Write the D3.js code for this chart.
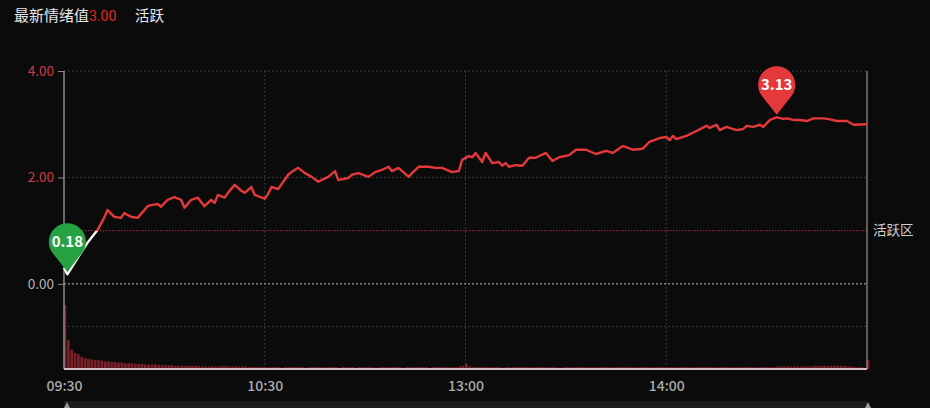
<!DOCTYPE html>
<html>
<head>
<meta charset="utf-8">
<script src="https://cdn.jsdelivr.net/npm/d3@7/dist/d3.min.js"></script>
<style>
  html, body { margin: 0; padding: 0; background: #0b0b0c; }
  svg { display: block; }
  text { font-family: "Noto Sans CJK SC", "Noto Sans", Roboto, sans-serif; }
</style>
</head>
<body>
<svg id="chart" width="930" height="408"></svg>
<script>
// ---------- DATA ----------
const titleLabel = "最新情绪值";
const latestValue = "3.00";
const stateLabel = "活跃";
const zoneLabel = "活跃区";
const zoneThreshold = 1.0;

const yTickValues = [4, 2, 0];
const yGridValues = [4, 2, -0.8];
const xTickMinutes = [0, 60, 120, 180];
const xTickLabels = ["09:30", "10:30", "13:00", "14:00"];

// minute index (0 = 09:30, 240 = 15:00) and sentiment value
const minutes = [0,1,4,7,10,12,13,15,17,18,20,22,25,26,28,29,31,33,35,36,38,40,42,44,45,46,48,49,51,53,54,56,57,60,61,62,64,67,68,70,72,74,76,79,81,82,85,86,88,91,93,95,97,98,100,103,104,106,109,111,113,116,118,119,121,122,123,125,126,128,130,131,132,133,135,137,139,141,144,146,148,151,153,156,159,162,164,167,168,170,173,175,178,180,181,182,183,186,188,192,193,195,196,198,201,203,204,206,208,209,211,213,215,216,218,220,222,224,227,229,231,234,236,240];
const values  = [0.30,0.18,0.48,0.77,1.01,1.24,1.39,1.26,1.24,1.33,1.26,1.24,1.46,1.48,1.50,1.45,1.58,1.63,1.58,1.43,1.58,1.62,1.46,1.58,1.52,1.67,1.62,1.71,1.86,1.75,1.71,1.82,1.67,1.60,1.69,1.82,1.78,2.05,2.10,2.18,2.08,2.01,1.92,2.01,2.12,1.95,1.99,2.05,2.08,2.01,2.10,2.14,2.20,2.12,2.18,2.01,2.08,2.20,2.20,2.18,2.18,2.10,2.12,2.33,2.40,2.38,2.46,2.29,2.46,2.27,2.29,2.22,2.27,2.20,2.23,2.22,2.37,2.37,2.46,2.31,2.38,2.42,2.52,2.52,2.44,2.50,2.46,2.59,2.57,2.52,2.54,2.67,2.74,2.76,2.70,2.78,2.72,2.78,2.84,2.97,2.93,2.99,2.89,2.95,2.89,2.91,2.97,2.95,2.99,2.95,3.08,3.13,3.10,3.11,3.08,3.08,3.06,3.11,3.11,3.09,3.06,3.06,2.99,3.00];

// per-minute volume bars (relative units)
const volumes = [
  100,45,30,25,23,19,17,16,15,14,14,13,12,12,11,11,10,10,9,9,
  9,8,8,8,7,7,7,7,6,6,6,6,6,5,5,5,5,5,5,5,
  5,4,4,4,4,4,4,5,5,4,4,4,4,4,4,3,3,3,3,3,
  3,3,3,3,3,2,3,3,3,3,3,3,2,3,3,3,3,3,3,3,
  3,3,2,3,3,3,3,2,3,3,3,3,3,2,3,3,3,3,3,3,
  3,2,3,3,3,3,3,3,3,2,3,3,3,3,3,3,3,3,4,5,
  8,4,3,3,3,3,3,3,3,3,3,2,3,3,3,3,3,3,3,3,
  3,3,3,3,3,3,3,3,2,3,3,3,3,3,3,3,3,3,3,3,
  3,3,3,3,3,3,3,3,3,3,3,3,3,3,3,3,3,3,3,3,
  3,3,3,3,3,3,3,3,3,3,3,3,3,3,3,3,3,3,3,3,
  3,3,3,3,3,3,3,3,3,3,3,3,3,4,4,4,4,4,4,4,
  4,4,4,4,5,5,5,5,5,5,5,5,5,5,4,4,3,3,3,2,
  14
];

// ---------- LAYOUT ----------
const svg = d3.select("#chart");
const L = 64, R = 867, T = 71, B = 369;
const x = d3.scaleLinear().domain([0, 240]).range([L, R]);
const y = d3.scaleLinear().domain([-1.6, 4]).range([B, T]);
const yv = d3.scaleLinear().domain([0, 100]).range([B, 305]);

const RED = "#e5383b";
const GREEN = "#27a243";

svg.append("rect").attr("width", 930).attr("height", 408).attr("fill", "#0b0b0c");

// title
const title = svg.append("text").attr("x", 14).attr("y", 21).attr("font-size", 15);
title.append("tspan").attr("fill", "#e6e6e6").text(titleLabel);
title.append("tspan").attr("fill", "#e02828").attr("font-family", "Roboto, sans-serif").attr("font-size", 14).text(latestValue);
svg.append("text").attr("x", 135).attr("y", 21).attr("font-size", 14.5).attr("fill", "#e6e6e6").text(stateLabel);

// gridlines
svg.append("g").selectAll("line").data(yGridValues).join("line")
  .attr("x1", L).attr("x2", R).attr("y1", d => y(d)).attr("y2", d => y(d))
  .attr("stroke", "#4a4a4a").attr("stroke-width", 1).attr("stroke-dasharray", "1.5,2.5");
svg.append("g").selectAll("line").data(xTickMinutes.slice(1)).join("line")
  .attr("x1", d => x(d)).attr("x2", d => x(d)).attr("y1", T).attr("y2", B)
  .attr("stroke", "#4a4a4a").attr("stroke-width", 1).attr("stroke-dasharray", "1.5,2.5");
// zero line
svg.append("line").attr("x1", L).attr("x2", R).attr("y1", y(0)).attr("y2", y(0))
  .attr("stroke", "#bdbdbd").attr("stroke-width", 1).attr("stroke-dasharray", "2,2");
// active zone line
svg.append("line").attr("x1", L).attr("x2", R).attr("y1", y(zoneThreshold)).attr("y2", y(zoneThreshold))
  .attr("stroke", "#a3303a").attr("stroke-width", 1).attr("stroke-dasharray", "1.5,1.5");
svg.append("text").attr("x", 873).attr("y", y(zoneThreshold)).attr("dy", "0.35em")
  .attr("font-size", 13.5).attr("fill", "#cfcfcf").text(zoneLabel);

// volume bars
const bw = (x(1) - x(0)) * 0.8;
svg.append("g").selectAll("rect").data(volumes).join("rect")
  .attr("x", (d, i) => x(i) - bw / 2 + 1)
  .attr("width", bw)
  .attr("y", d => yv(d))
  .attr("height", d => B - yv(d))
  .attr("fill", "#7d1f29");

// axes
const yAxis = d3.axisLeft(y).tickValues(yTickValues).tickFormat(d3.format(".2f")).tickSize(6).tickPadding(4);
const gy = svg.append("g").attr("transform", `translate(${L},0)`).call(yAxis);
gy.select(".domain").remove();
gy.selectAll(".tick line").attr("stroke", "#8a8a8a");
gy.selectAll(".tick text").attr("font-size", 13.5).attr("font-family", "Roboto, sans-serif")
  .attr("fill", d => d > 0 ? "#d23a40" : "#b4b4b4");
svg.append("line").attr("x1", L).attr("x2", L).attr("y1", T).attr("y2", B)
  .attr("stroke", "#8a8a8a").attr("stroke-width", 1.5);
svg.append("line").attr("x1", R).attr("x2", R).attr("y1", T).attr("y2", B)
  .attr("stroke", "#7a7a7a").attr("stroke-width", 1.5);

const xAxis = d3.axisBottom(x).tickValues(xTickMinutes).tickFormat((d, i) => xTickLabels[i]).tickSize(0).tickPadding(12);
const gx = svg.append("g").attr("transform", `translate(0,${B})`).call(xAxis);
gx.select(".domain").remove();
gx.selectAll(".tick text").attr("font-size", 14).attr("font-weight", 500)
  .attr("font-family", "Roboto, sans-serif").attr("fill", "#ababab");
svg.append("line").attr("x1", L).attr("x2", R).attr("y1", B).attr("y2", B)
  .attr("stroke", "#d7bfc3").attr("stroke-width", 1.8);

// slider strip
svg.append("rect").attr("x", L).attr("y", 401).attr("width", R - L).attr("height", 7).attr("fill", "#1d1d1e");
[L + 3, R + 1].forEach(px => {
  svg.append("path").attr("d", `M${px},402 L${px - 3},408 L${px + 3},408 Z`).attr("fill", "#9a9a9a");
});

// line with colour split at threshold
const defs = svg.append("defs");
const grad = defs.append("linearGradient").attr("id", "lineGrad")
  .attr("gradientUnits", "userSpaceOnUse").attr("x1", 0).attr("x2", 0).attr("y1", T).attr("y2", B);
const off = (y(zoneThreshold) - T) / (B - T);
grad.append("stop").attr("offset", off).attr("stop-color", RED);
grad.append("stop").attr("offset", off).attr("stop-color", "#ffffff");
const pts = minutes.map((m, i) => [m, values[i]]);
svg.append("path").datum(pts)
  .attr("d", d3.line().x(d => x(d[0])).y(d => y(d[1])))
  .attr("fill", "none").attr("stroke", "url(#lineGrad)").attr("stroke-width", 2.4)
  .attr("stroke-linejoin", "round");

// pins
function pin(idx, color) {
  const px = x(minutes[idx]), py = y(values[idx]) - 2.5;
  const r = 18.5, d = 30;
  const cy = py - d;
  const a = Math.asin(r / d);
  const tx = r * Math.cos(a), ty = cy + r * Math.sin(a);
  const g = svg.append("g");
  g.append("path")
    .attr("d", `M${px},${py} L${px - tx},${ty} A${r},${r} 0 1 1 ${px + tx},${ty} Z`)
    .attr("fill", color);
  g.append("text").attr("x", px).attr("y", cy).attr("dy", "0.36em").attr("text-anchor", "middle")
    .attr("font-size", 15).attr("font-weight", 700).attr("font-family", "Roboto, sans-serif")
    .attr("fill", "#ffffff").text(d3.format(".2f")(values[idx]));
}
const maxIdx = d3.maxIndex(values);
const minIdx = d3.minIndex(values);
pin(minIdx, GREEN);
pin(maxIdx, RED);
</script>
</body>
</html>
